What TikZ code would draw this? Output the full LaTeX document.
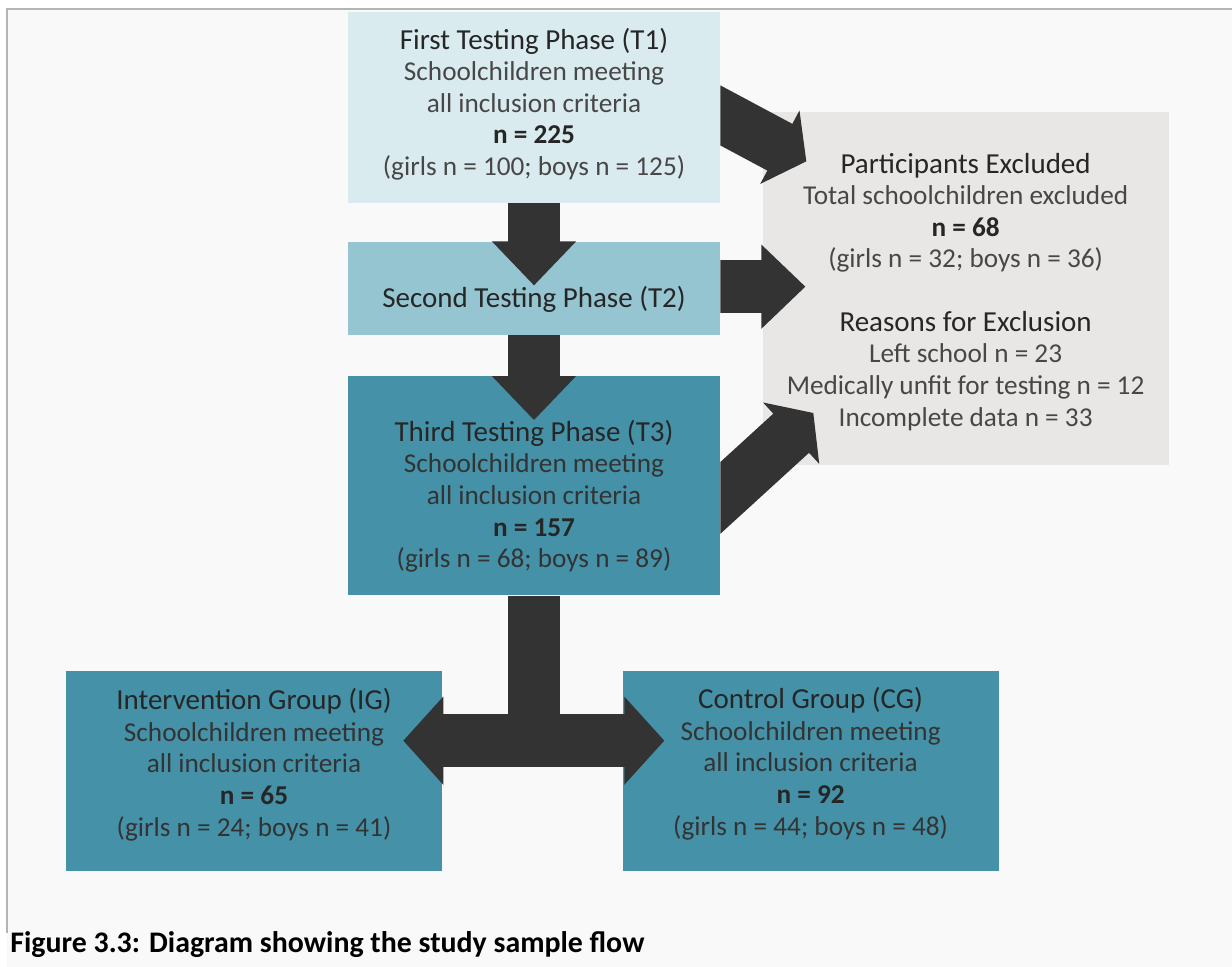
\documentclass[tikz,border=0pt]{standalone}
\usepackage{fontspec}
\setmainfont{Carlito}
\usetikzlibrary{arrows.meta, positioning, calc}
\definecolor{flowpage}{HTML}{F9F9F9}
\definecolor{flowframe}{HTML}{B4B4B4}
\definecolor{flowpale}{HTML}{DAEBF0}
\definecolor{flowmid}{HTML}{96C5D2}
\definecolor{flowteal}{HTML}{4592A8}
\definecolor{flowgrey}{HTML}{E8E7E5}
\definecolor{flowdark}{HTML}{333333}
\definecolor{flowtext}{HTML}{474747}
\definecolor{flowhead}{HTML}{262626}

\tikzset{
  phase/.style={rectangle, minimum width=7.44cm, inner sep=0pt},
  group/.style={rectangle, fill=flowteal, minimum width=7.52cm, minimum height=4cm, inner sep=0pt},
  txt/.style={align=center, inner sep=0pt, text=flowtext, font=\fontsize{15.5}{18}\selectfont},
  flow/.style={draw=flowdark, line width=1.06cm, -{Triangle[length=0.88cm, width=1.68cm, line width=1pt]}},
  slant/.style={draw=flowdark, line width=1.06cm, -{Triangle[length=0.6cm, width=1.66cm, line width=1pt]}},
  fork/.style={draw=flowdark, line width=1.06cm, {Triangle[length=0.8cm, width=1.76cm, line width=1pt]}-{Triangle[length=0.8cm, width=1.76cm, line width=1pt]}}
}
\newcommand{\boxtitle}[1]{{\fontsize{16.5}{18}\selectfont\color{flowhead}#1}}
\newcommand{\boxcount}[1]{{\bfseries\color{flowhead}#1}}

\begin{document}
\begin{tikzpicture}[x=0.02cm, y=-0.02cm]
  \useasboundingbox (0,0) rectangle (1232,967);
  \fill[white] (0,0) rectangle (1232,967);
  \fill[flowpage] (7,9) rectangle (1232,967);
  \draw[flowframe, line width=0.04cm] (1232,9) -- (7,9) -- (7,933);

  % boxes
  \node[phase, fill=flowpale, minimum height=3.82cm] (t1) at (534,107.5) {};
  \node[phase, fill=flowmid, minimum height=1.86cm, below=0.76cm of t1] (t2) {};
  \node[phase, fill=flowteal, minimum height=4.38cm, below=0.82cm of t2] (t3) {};
  \node[rectangle, fill=flowgrey, minimum width=8.12cm, minimum height=7.06cm, inner sep=0pt, right=0.84cm of t2] (excl) {};
  \node[group] (ig) at (254,771) {};
  \node[group, right=3.6cm of ig] (cg) {};

  % exclusions
  \begin{scope}
    \clip (t1.north east) rectangle (1232,967);
    \draw[slant] ($(t1.east)+(-20,-2.8)$) -- ($(excl.north west)+(44,50)$);
    \draw[flow] ($(t2.east)+(-20,-1.5)$) -- ($(excl.west |- t2.east)+(43,-1.5)$);
    \draw[slant] ($(t3.east)+(-20,30.4)$) -- ($(excl.south west)+(51,-52)$);
  \end{scope}

  % phases
  \draw[flow] (t1.south) -- ($(t2.north)+(0,44)$);
  \draw[flow] (t2.south) -- ($(t3.north)+(0,44)$);

  % allocation
  \coordinate (split) at ($(t3.south)+(0,145)$);
  \draw[draw=flowdark, line width=1.04cm] (t3.south) -- (split);
  \draw[fork] ($(ig.east |- split)+(-39,0)$) -- ($(cg.west |- split)+(42,0)$);

  % texts
  \node[txt] (t1-text) at ($(t1)+(0,-3.5)$) {\boxtitle{First Testing Phase (T1)}\\ Schoolchildren meeting\\ all inclusion criteria\\ \boxcount{n = 225}\\ (girls n = 100; boys n = 125)};
  \node[txt] (t2-text) at ($(t2)+(0,11.5)$) {\boxtitle{Second Testing Phase (T2)}};
  \node[txt, text=flowdark] (t3-text) at ($(t3)+(0,10.5)$) {\boxtitle{Third Testing Phase (T3)}\\ Schoolchildren meeting\\ all inclusion criteria\\ \boxcount{n = 157}\\ (girls n = 68; boys n = 89)};
  \node[txt] (excl-text) at ($(excl)+(0,3.5)$) {\boxtitle{Participants Excluded}\\ Total schoolchildren excluded\\ \boxcount{n = 68}\\ (girls n = 32; boys n = 36)\\[18pt] \boxtitle{Reasons for Exclusion}\\ Left school n = 23\\ Medically unfit for testing n = 12\\ Incomplete data n = 33};
  \node[txt, text=flowdark] (ig-text) at ($(ig)+(0,-6.5)$) {\boxtitle{Intervention Group (IG)}\\ Schoolchildren meeting\\ all inclusion criteria\\ \boxcount{n = 65}\\ (girls n = 24; boys n = 41)};
  \node[txt, text=flowdark] (cg-text) at ($(cg)+(0,-7.5)$) {\boxtitle{Control Group (CG)}\\ Schoolchildren meeting\\ all inclusion criteria\\ \boxcount{n = 92}\\ (girls n = 44; boys n = 48)};

  \node[anchor=west, inner sep=0pt, font=\fontsize{17}{20}\selectfont\bfseries] (caption) at (10,945) {Figure 3.3: Diagram showing the study sample flow};
\end{tikzpicture}
\end{document}
